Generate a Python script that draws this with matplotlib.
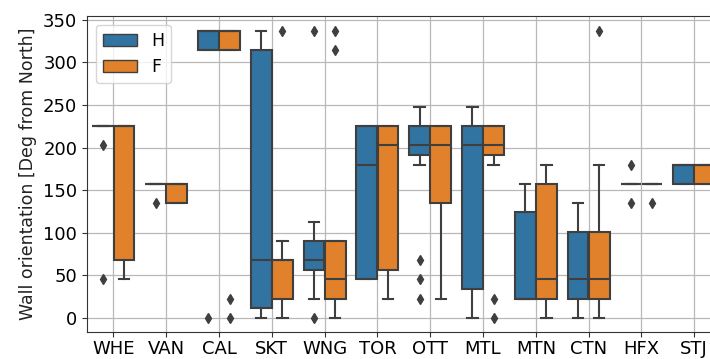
import matplotlib.pyplot as plt
from matplotlib.patches import Patch

stations = ['WHE', 'VAN', 'CAL', 'SKT', 'WNG', 'TOR', 'OTT', 'MTL', 'MTN', 'CTN', 'HFX', 'STJ']

# box statistics per station (deg from north)
h_q1 = [225, 157.5, 315, 11.25, 56.25, 45, 191.25, 33.75, 22.5, 22.5, 157.5, 157.5]
h_med = [225, 157.5, 337.5, 67.5, 67.5, 180, 202.5, 202.5, 22.5, 45, 157.5, 180]
h_q3 = [225, 157.5, 337.5, 315, 90, 225, 225, 225, 123.75, 101.25, 157.5, 180]
h_lo = [225, 157.5, 315, 0, 22.5, 45, 180, 0, 22.5, 0, 157.5, 157.5]
h_hi = [225, 157.5, 337.5, 337.5, 112.5, 225, 247.5, 247.5, 157.5, 135, 157.5, 180]
h_out = [[202.5, 45], [135], [0], [], [337.5, 0], [], [67.5, 45, 22.5], [], [], [], [180, 135], []]

f_q1 = [67.5, 135, 315, 22.5, 22.5, 56.25, 135, 191.25, 22.5, 22.5, 157.5, 157.5]
f_med = [225, 157.5, 337.5, 67.5, 45, 202.5, 202.5, 202.5, 45, 45, 157.5, 180]
f_q3 = [225, 157.5, 337.5, 67.5, 90, 225, 225, 225, 157.5, 101.25, 157.5, 180]
f_lo = [45, 135, 315, 0, 0, 22.5, 22.5, 180, 0, 0, 157.5, 157.5]
f_hi = [225, 157.5, 337.5, 90, 90, 225, 225, 225, 180, 180, 157.5, 180]
f_out = [[], [], [22.5, 0], [337.5], [337.5, 315], [], [], [22.5, 0], [], [337.5], [135], []]

blue = '#3274a1'
orange = '#e1812c'
gray = '#3f3f3f'

plt.rcParams['font.size'] = 12

fig = plt.figure(figsize=(7.1, 3.59), dpi=100)
ax = fig.add_axes([0.1225, 0.075, 0.8925, 0.88])


def draw(q1, med, q3, lo, hi, out, offset, color):
    stats = []
    for i in range(len(stations)):
        stats.append({'q1': q1[i], 'med': med[i], 'q3': q3[i],
                      'whislo': lo[i], 'whishi': hi[i], 'fliers': out[i]})
    pos = [i + offset for i in range(len(stations))]
    ax.bxp(stats, positions=pos, widths=0.392, patch_artist=True,
           boxprops=dict(facecolor=color, edgecolor=gray, linewidth=1.5),
           medianprops=dict(color=gray, linewidth=1.5),
           whiskerprops=dict(color=gray, linewidth=1.5),
           capprops=dict(color=gray, linewidth=1.5),
           flierprops=dict(marker='d', markerfacecolor=gray, markeredgecolor=gray,
                           markersize=5, linestyle='none'),
           manage_ticks=False)


draw(h_q1, h_med, h_q3, h_lo, h_hi, h_out, -0.2, blue)
draw(f_q1, f_med, f_q3, f_lo, f_hi, f_out, 0.2, orange)

ax.set_xticks(range(len(stations)))
ax.set_xticklabels(stations)
ax.set_xlim(-0.5, len(stations) - 0.5)
ax.set_ylim(-16.875, 354.375)
ax.set_yticks(range(0, 351, 50))
ax.tick_params(labelsize=13, color='#333333')
ax.tick_params(axis='x', pad=2.5)
ax.set_ylabel('Wall orientation [Deg from North]', fontsize=12.5, color='#222222')
ax.grid(True, color='#b8b8b8', linewidth=0.9)
ax.set_axisbelow(True)
for s in ax.spines.values():
    s.set_color('#333333')

ax.legend(handles=[Patch(facecolor=blue, edgecolor=gray, label='H'),
                   Patch(facecolor=orange, edgecolor=gray, label='F')],
          loc='upper left', fontsize=12.5)

fig.savefig('out.png', dpi=100)
